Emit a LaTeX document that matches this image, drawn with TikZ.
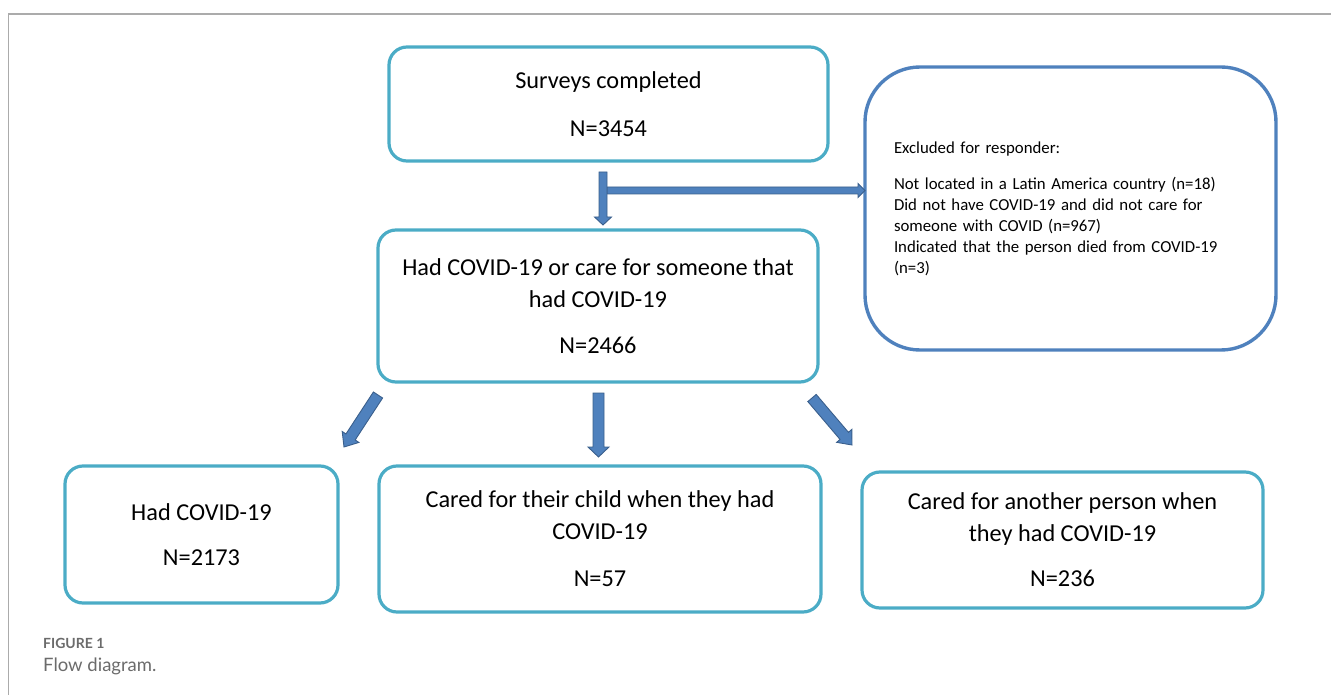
\documentclass[tikz,border=0pt]{standalone}
\usepackage{fontspec}
\setmainfont{Carlito}
\newfontfamily\capfont{Lato}
\usetikzlibrary{calc}
\definecolor{boxteal}{HTML}{4BACC6}
\definecolor{exblue}{HTML}{4F81BD}
\definecolor{arrfill}{HTML}{4F81BD}
\definecolor{arrdraw}{HTML}{3A5F8C}
\definecolor{framegray}{HTML}{ABABAB}
\definecolor{capgray}{HTML}{6B6B6B}
\newcommand\blockarr[6]{% start, tip, shaft half width, head half width, head length, name
  \coordinate (#6-c) at ($(#2)!#5!(#1)$);
  \draw[barrow] ($(#1)!#3!90:(#2)$) -- ($(#6-c)!#3!-90:(#1)$) -- ($(#6-c)!#4!-90:(#1)$) -- (#2)
    -- ($(#6-c)!#4!90:(#1)$) -- ($(#6-c)!#3!90:(#1)$) -- ($(#1)!#3!-90:(#2)$) -- cycle;
}
\begin{document}
\begin{tikzpicture}[x=1pt,y=-1pt,
  box/.style={draw=boxteal, line width=3.2pt, rounded corners=18pt, align=center,
    inner sep=0pt, font=\fontsize{24.3}{32}\selectfont},
  exbox/.style={draw=exblue, line width=3.4pt, rounded corners=55pt, align=left,
    inner ysep=0pt, inner xsep=29pt, text width=353pt, font=\fontsize{16.8}{21}\selectfont},
  barrow/.style={fill=arrfill, draw=arrdraw, line width=0.9pt, line join=miter},
  frame/.style={draw=framegray, line width=1.4pt}]
\useasboundingbox (0,0) rectangle (1331,695);
% frame
\draw[frame] (1331,14) -- (8.5,14) -- (8.5,695);
% boxes
\node[box, minimum width=439pt, minimum height=114pt] (s) at (608.5,104)
  {Surveys completed\\[16pt]N=3454};
\node[box, minimum width=440pt, minimum height=152pt] (h) at (598,306)
  {Had COVID-19 or care for someone that\\had COVID-19\\[14pt]N=2466};
\node[exbox, minimum width=411pt, minimum height=283pt] (e) at (1070.5,208.5)
  {Excluded for responder:\\[15pt]Not located in a Latin America country (n=18)\\
   Did not have COVID-19 and did not care for\\someone with COVID (n=967)\\
   Indicated that the person died from COVID-19\\(n=3)};
\node[box, minimum width=273pt, minimum height=137pt] (c1) at (201.5,534.5)
  {Had COVID-19\\[13pt]N=2173};
\node[box, minimum width=442pt, minimum height=146pt] (c2) at (600,539)
  {Cared for their child when they had\\COVID-19\\[15pt]N=57};
\node[box, minimum width=401pt, minimum height=136pt] (c3) at (1062.5,540)
  {Cared for another person when\\they had COVID-19\\[13pt]N=236};
% arrow end points
\coordinate (a0s) at (603,172);
\coordinate (a0t) at (603,225);
\coordinate (a1s) at (607,190.5);
\coordinate (a1t) at (e.west);
\coordinate (b1s) at (378,395);
\coordinate (b1t) at (344,447);
\coordinate (b2s) at (598.5,393);
\coordinate (b2t) at (598.5,457);
\coordinate (b3s) at (812,398);
\coordinate (b3t) at (852,445);
\blockarr{a1s}{865,190.5}{3.5pt}{7pt}{7pt}{ah}
\blockarr{a0s}{a0t}{4pt}{8.5pt}{8pt}{av}
\blockarr{b1s}{b1t}{5.5pt}{10pt}{12pt}{bl}
\blockarr{b2s}{b2t}{5.5pt}{10.5pt}{10pt}{bm}
\blockarr{b3s}{b3t}{5.5pt}{10pt}{12pt}{br}
% caption
\node[anchor=west, inner sep=0pt, text=capgray, font=\capfont\bfseries\fontsize{14}{16}\selectfont] (f1) at (43,643) {FIGURE 1};
\node[anchor=west, inner sep=0pt, text=capgray, font=\capfont\fontsize{18.5}{21}\selectfont] (f2) at (43,666) {Flow diagram.};
\end{tikzpicture}
\end{document}
